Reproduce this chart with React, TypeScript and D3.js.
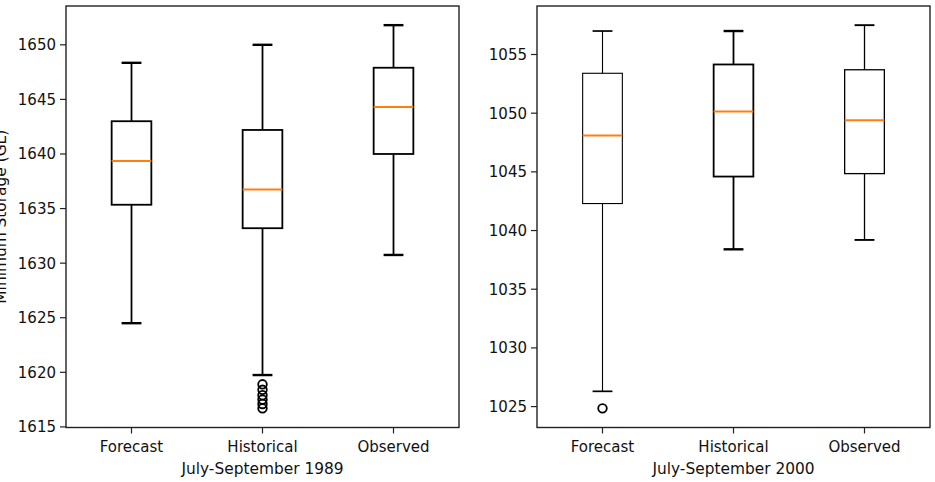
import React from "react";
import * as d3 from "d3";

const categories = ["Forecast", "Historical", "Observed"];

// July–September 1989 storage distributions (GL)
const low1989 = [1624.5, 1619.75, 1630.75];
const q1_1989 = [1635.35, 1633.2, 1640.0];
const med1989 = [1639.35, 1636.75, 1644.3];
const q3_1989 = [1643.0, 1642.2, 1647.9];
const high1989 = [1648.35, 1650.0, 1651.8];
const fliers1989 = [[], [1618.9, 1618.4, 1617.9, 1617.5, 1617.1, 1616.7], []];
const ticks1989 = [1615, 1620, 1625, 1630, 1635, 1640, 1645, 1650];

// July–September 2000 storage distributions (GL)
const low2000 = [1026.3, 1038.4, 1039.2];
const q1_2000 = [1042.3, 1044.6, 1044.85];
const med2000 = [1048.1, 1050.15, 1049.4];
const q3_2000 = [1053.4, 1054.15, 1053.7];
const high2000 = [1057.0, 1057.0, 1057.5];
const fliers2000 = [[1024.85], [], []];
const ticks2000 = [1025, 1030, 1035, 1040, 1045, 1050, 1055];

const FONT = "'DejaVu Sans', sans-serif";

type PanelProps = {
  left: number;
  right: number;
  title: string;
  low: number[];
  q1: number[];
  med: number[];
  q3: number[];
  high: number[];
  fliers: number[][];
  ticks: number[];
  lineW: number[];
  yLabel?: string;
};

const TOP = 6;
const BOTTOM = 427.5;

function Panel(p: PanelProps) {
  const all = [...p.low, ...p.high, ...p.fliers.flat()];
  const mn = d3.min(all)!;
  const mx = d3.max(all)!;
  const pad = (mx - mn) * 0.05;
  const y = d3.scaleLinear().domain([mn - pad, mx + pad]).range([BOTTOM, TOP]);
  const x = d3.scaleLinear().domain([0.5, 3.5]).range([p.left, p.right]);
  const boxHalf = (x(1.3) - x(1)) / 2 + 0.2;
  const capHalf = boxHalf / 2;
  const midX = (p.left + p.right) / 2;

  return (
    <g>
      {categories.map((c, i) => {
        const cx = x(i + 1);
        const w = p.lineW[i];
        return (
          <g key={c}>
            <line x1={cx} x2={cx} y1={y(p.high[i])} y2={y(p.q3[i])} stroke="#000" strokeWidth={w} />
            <line x1={cx} x2={cx} y1={y(p.q1[i])} y2={y(p.low[i])} stroke="#000" strokeWidth={w} />
            <line x1={cx - capHalf} x2={cx + capHalf} y1={y(p.high[i])} y2={y(p.high[i])} stroke="#000" strokeWidth={w + 0.6} />
            <line x1={cx - capHalf} x2={cx + capHalf} y1={y(p.low[i])} y2={y(p.low[i])} stroke="#000" strokeWidth={w + 0.6} />
            <rect
              x={cx - boxHalf}
              y={y(p.q3[i])}
              width={boxHalf * 2}
              height={y(p.q1[i]) - y(p.q3[i])}
              fill="none"
              stroke="#000"
              strokeWidth={w}
            />
            <line x1={cx - boxHalf} x2={cx + boxHalf} y1={y(p.med[i])} y2={y(p.med[i])} stroke="#ff7f0e" strokeWidth={2} />
            {p.fliers[i].map((v, k) => (
              <circle key={k} cx={cx} cy={y(v)} r={4.3} fill="none" stroke="#000" strokeWidth={1.8} />
            ))}
          </g>
        );
      })}

      {/* frame */}
      <rect x={p.left} y={TOP} width={p.right - p.left} height={BOTTOM - TOP} fill="none" stroke="#222" strokeWidth={1.4} />

      {/* y ticks */}
      {p.ticks.map((t) => (
        <g key={t}>
          <line x1={p.left - 6} x2={p.left} y1={y(t)} y2={y(t)} stroke="#222" strokeWidth={1.2} />
          <text x={p.left - 10} y={y(t)} dy="0.36em" textAnchor="end" fontFamily={FONT} fontSize={15} fill="#111">
            {t}
          </text>
        </g>
      ))}

      {/* x ticks */}
      {categories.map((c, i) => (
        <g key={c}>
          <line x1={x(i + 1)} x2={x(i + 1)} y1={BOTTOM} y2={BOTTOM + 6} stroke="#222" strokeWidth={1.2} />
          <text x={x(i + 1)} y={452} textAnchor="middle" fontFamily={FONT} fontSize={15} fill="#111">
            {c}
          </text>
        </g>
      ))}

      <text x={midX} y={474} textAnchor="middle" fontFamily={FONT} fontSize={15.4} fill="#111">
        {p.title}
      </text>

      {p.yLabel && (
        <text
          transform={`translate(6, ${(TOP + BOTTOM) / 2}) rotate(-90)`}
          textAnchor="middle"
          fontFamily={FONT}
          fontSize={15.4}
          fill="#111"
        >
          {p.yLabel}
        </text>
      )}
    </g>
  );
}

export default function App() {
  return (
    <svg
      width={935}
      height={482}
      viewBox="0 0 935 482"
      style={{ position: "absolute", left: 0, top: 0, background: "#fff" }}
    >
      <rect width={935} height={482} fill="#fff" />
      <Panel
        left={66}
        right={459}
        title="July-September 1989"
        low={low1989}
        q1={q1_1989}
        med={med1989}
        q3={q3_1989}
        high={high1989}
        fliers={fliers1989}
        ticks={ticks1989}
        lineW={[1.8, 1.8, 1.8]}
        yLabel="Minimum Storage (GL)"
      />
      <Panel
        left={537}
        right={930}
        title="July-September 2000"
        low={low2000}
        q1={q1_2000}
        med={med2000}
        q3={q3_2000}
        high={high2000}
        fliers={fliers2000}
        ticks={ticks2000}
        lineW={[1.1, 1.8, 1.3]}
      />
    </svg>
  );
}
